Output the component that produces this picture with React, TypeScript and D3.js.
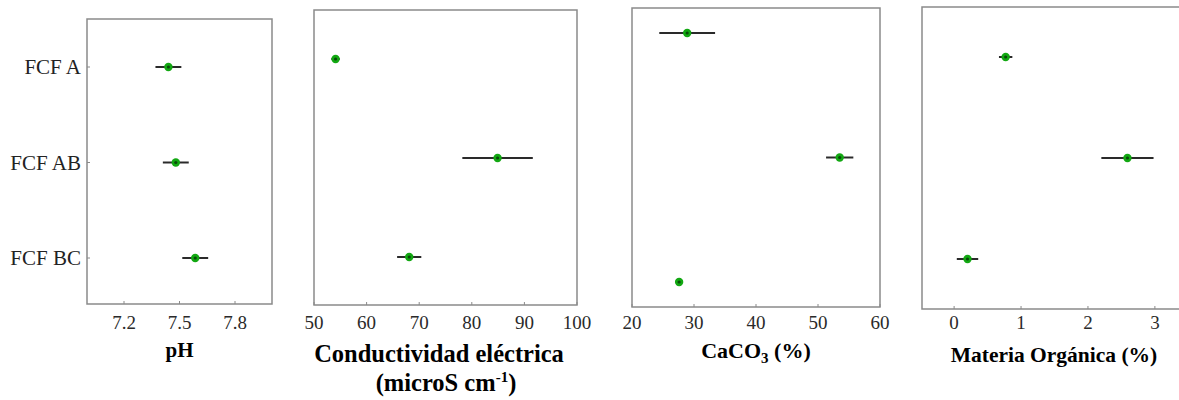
import React from "react";
import * as d3 from "d3";

const categories = ["FCF A", "FCF AB", "FCF BC"];

const phMean = [7.44, 7.48, 7.585];
const phErr = [0.07, 0.07, 0.07];
const phTicks = [7.2, 7.5, 7.8];

const ceMean = [54.1, 84.9, 68.1];
const ceErr = [0.8, 6.7, 2.3];
const ceTicks = [50, 60, 70, 80, 90, 100];

const caMean = [28.9, 53.5, 27.6];
const caErr = [4.5, 2.2, 0.55];
const caTicks = [20, 30, 40, 50, 60];

const moMean = [0.77, 2.59, 0.2];
const moErr = [0.1, 0.39, 0.16];
const moTicks = [0, 1, 2, 3];

const FONT = "'Liberation Serif', 'Times New Roman', serif";

type Panel = {
  mean: number[];
  err: number[];
  ticks: number[];
  domain: [number, number];
  x0: number;
  x1: number;
  y0: number;
  y1: number;
  pts: [number, number];
  title: React.ReactNode;
  showY: boolean;
};

const panels: Panel[] = [
  {
    mean: phMean, err: phErr, ticks: phTicks, domain: [7.0, 8.0],
    x0: 87, x1: 272, y0: 19, y1: 304, pts: [67, 258], showY: true,
    title: (
      <text x={179.5} y={357} textAnchor="middle" fontWeight="bold" fontSize={21}>pH</text>
    ),
  },
  {
    mean: ceMean, err: ceErr, ticks: ceTicks, domain: [50, 100],
    x0: 314, x1: 577, y0: 10, y1: 305, pts: [59, 257], showY: false,
    title: (
      <g fontWeight="bold" fontSize={24.5}>
        <text x={439} y={362} textAnchor="middle">Conductividad eléctrica</text>
        <text x={446} y={391} textAnchor="middle">
          (microS cm<tspan dy={-9} fontSize={15}>-1</tspan><tspan dy={9}>)</tspan>
        </text>
      </g>
    ),
  },
  {
    mean: caMean, err: caErr, ticks: caTicks, domain: [20, 60],
    x0: 632, x1: 880, y0: 8, y1: 307, pts: [33, 282], showY: false,
    title: (
      <text x={756} y={358} textAnchor="middle" fontWeight="bold" fontSize={22}>
        CaCO<tspan dy={5} fontSize={15}>3</tspan><tspan dy={-5}> (%)</tspan>
      </text>
    ),
  },
  {
    mean: moMean, err: moErr, ticks: moTicks, domain: [-0.48, 3.45],
    x0: 922, x1: 1185, y0: 7, y1: 309, pts: [57, 259], showY: false,
    title: (
      <text x={1054} y={362} textAnchor="middle" fontWeight="bold" fontSize={21.5}>Materia Orgánica (%)</text>
    ),
  },
];

function PanelView({ p }: { p: Panel }) {
  const x = d3.scaleLinear().domain(p.domain).range([p.x0, p.x1]);
  const y = d3.scalePoint<string>().domain(categories).range(p.pts);
  return (
    <g>
      <rect x={p.x0} y={p.y0} width={p.x1 - p.x0} height={p.y1 - p.y0}
        fill="white" stroke="#8a8a8a" strokeWidth={1.5} />
      {p.ticks.map((t) => (
        <g key={t}>
          <line x1={x(t)} x2={x(t)} y1={p.y1} y2={p.y1 - 3} stroke="#8a8a8a" strokeWidth={1} />
          <text x={x(t)} y={329} textAnchor="middle" fontSize={19} fill="#2a2a2a">{t}</text>
        </g>
      ))}
      {p.showY && categories.map((c) => (
        <g key={c}>
          <line x1={p.x0} x2={p.x0 + 3} y1={y(c)!} y2={y(c)!} stroke="#8a8a8a" strokeWidth={1} />
          <text x={81} y={y(c)! + 7} textAnchor="end" fontSize={21} fill="#222">{c}</text>
        </g>
      ))}
      {categories.map((c, i) => (
        <g key={c}>
          <line x1={x(p.mean[i] - p.err[i])} x2={x(p.mean[i] + p.err[i])}
            y1={y(c)!} y2={y(c)!} stroke="#2a2a2a" strokeWidth={2} />
          <circle cx={x(p.mean[i])} cy={y(c)!} r={4.2} fill="#12a812" />
          <circle cx={x(p.mean[i])} cy={y(c)!} r={1.6} fill="#0a4a0a" />
        </g>
      ))}
      {p.title}
    </g>
  );
}

export default function App() {
  return (
    <svg width={1179} height={400} style={{ position: "absolute", left: 0, top: 0, background: "white" }}
      fontFamily={FONT}>
      {panels.map((p, i) => (
        <PanelView key={i} p={p} />
      ))}
    </svg>
  );
}
